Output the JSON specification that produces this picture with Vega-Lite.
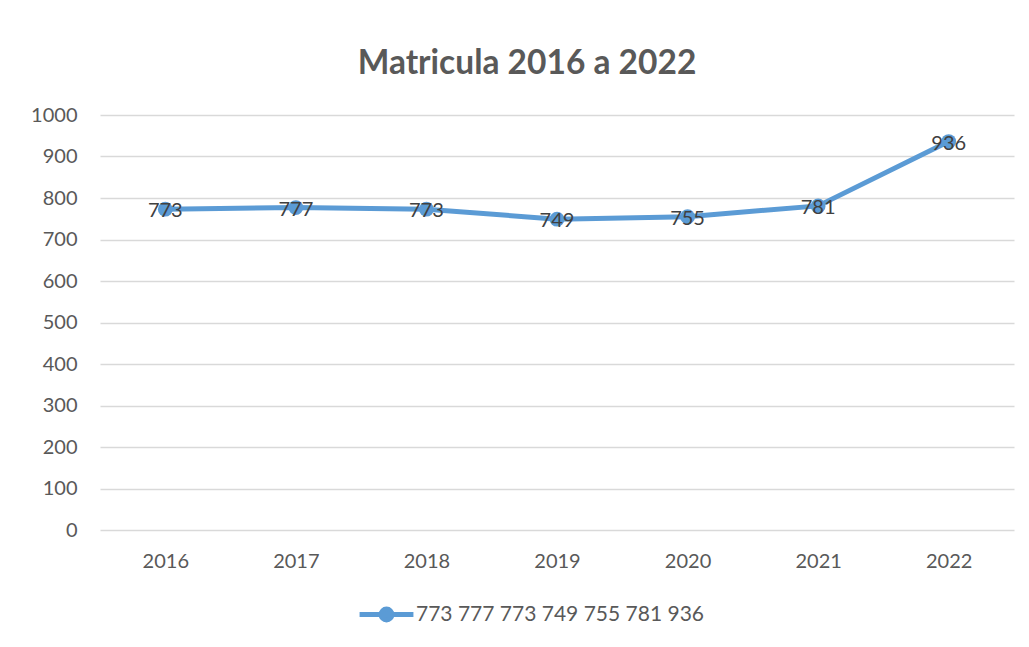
{
  "$schema": "https://vega.github.io/schema/vega-lite/v6.json",
  "width": 914,
  "height": 415,
  "autosize": "none",
  "padding": {"left": 100, "top": 115, "right": 15, "bottom": 117},
  "background": "white",
  "title": {"text": "Matricula 2016 a 2022", "fontSize": 33.5, "font": "Lato", "fontWeight": "bold", "color": "#595959", "anchor": "middle", "dx": -30, "offset": 24},
  "data": {"values": [
    {"year": "2016", "value": 773, "series": "773 777 773 749 755 781 936"},
    {"year": "2017", "value": 777, "series": "773 777 773 749 755 781 936"},
    {"year": "2018", "value": 773, "series": "773 777 773 749 755 781 936"},
    {"year": "2019", "value": 749, "series": "773 777 773 749 755 781 936"},
    {"year": "2020", "value": 755, "series": "773 777 773 749 755 781 936"},
    {"year": "2021", "value": 781, "series": "773 777 773 749 755 781 936"},
    {"year": "2022", "value": 936, "series": "773 777 773 749 755 781 936"}
  ]},
  "encoding": {
    "x": {"field": "year", "type": "ordinal", "scale": {"type": "point", "padding": 0.5}, "axis": {"title": null, "labelAngle": 0, "ticks": false, "domain": false, "labelFont": "Lato", "labelFontSize": 20, "labelColor": "#595959", "labelPadding": 21}},
    "y": {"field": "value", "type": "quantitative", "scale": {"domain": [0, 1000]}, "axis": {"title": null, "format": "d", "values": [0,100,200,300,400,500,600,700,800,900,1000], "ticks": false, "domain": false, "grid": true, "gridColor": "#d9d9d9", "gridWidth": 1.3, "labelFont": "Lato", "labelFontSize": 20, "labelColor": "#595959", "labelPadding": 23}}
  },
  "layer": [
    {
      "mark": {"type": "line", "strokeWidth": 5, "strokeCap": "round", "point": {"filled": true, "size": 220, "color": "#5B9BD5"}},
      "encoding": {
        "color": {"field": "series", "type": "nominal", "scale": {"range": ["#5B9BD5"]}, "legend": {"title": null, "orient": "none", "legendX": 257, "legendY": 470, "symbolType": "M-1,0H1M-0.2,0A0.2,0.2 0 1,0 0.2,0A0.2,0.2 0 1,0 -0.2,0", "symbolSize": 2900, "symbolStrokeWidth": 5, "symbolFillColor": "#5B9BD5", "labelFont": "Lato", "labelFontSize": 21, "labelColor": "#595959", "labelLimit": 500, "labelOffset": 0}}
      }
    },
    {
      "mark": {"type": "text", "font": "Lato", "fontSize": 20, "color": "#404040", "baseline": "middle", "dy": 2},
      "encoding": {"text": {"field": "value", "type": "quantitative"}}
    }
  ],
  "config": {"view": {"stroke": null}}
}
